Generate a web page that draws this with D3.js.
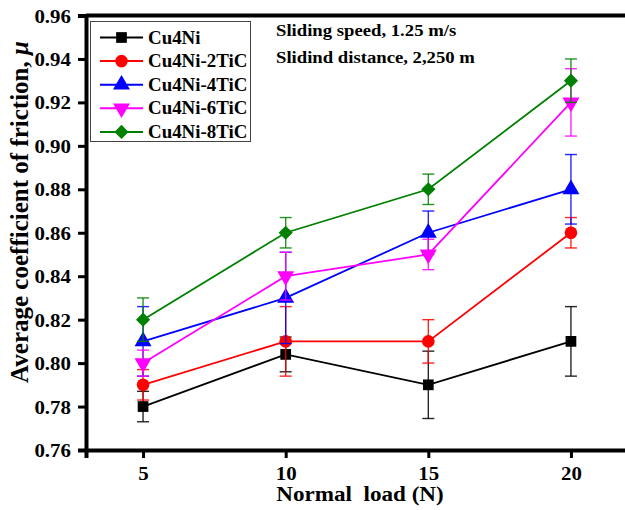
<!DOCTYPE html>
<html>
<head>
<meta charset="utf-8">
<script src="https://cdn.jsdelivr.net/npm/d3@7"></script>
<style>
  html, body { margin: 0; padding: 0; background: #fff; }
  svg { display: block; }
  text { font-family: "Liberation Serif", "Times New Roman", serif; font-weight: bold; }
</style>
</head>
<body>
<svg id="chart" width="625" height="510"></svg>
<script>
// Normal load (N)
const loads = [5, 10, 15, 20];
const seriesNames = ["Cu4Ni", "Cu4Ni-2TiC", "Cu4Ni-4TiC", "Cu4Ni-6TiC", "Cu4Ni-8TiC"];
// Average coefficient of friction per series
const cu4ni     = [0.780, 0.804, 0.790, 0.810];
const cu4ni2tic = [0.790, 0.810, 0.810, 0.860];
const cu4ni4tic = [0.810, 0.830, 0.860, 0.880];
const cu4ni6tic = [0.800, 0.840, 0.850, 0.920];
const cu4ni8tic = [0.820, 0.860, 0.880, 0.930];
// Error bar half-widths
const cu4niErr     = [0.007, 0.008, 0.0155, 0.016];
const cu4ni2ticErr = [0.007, 0.016, 0.010, 0.007];
const cu4ni4ticErr = [0.016, 0.021, 0.010, 0.016];
const cu4ni6ticErr = [0.006, 0.011, 0.007, 0.0155];
const cu4ni8ticErr = [0.010, 0.007, 0.007, 0.010];
const yTicks = [0.76, 0.78, 0.80, 0.82, 0.84, 0.86, 0.88, 0.90, 0.92, 0.94, 0.96];
const xTicks = [5, 10, 15, 20];
const notes = ["Sliding speed, 1.25 m/s", "Slidind distance, 2,250 m"];

const values = [cu4ni, cu4ni2tic, cu4ni4tic, cu4ni6tic, cu4ni8tic];
const errors = [cu4niErr, cu4ni2ticErr, cu4ni4ticErr, cu4ni6ticErr, cu4ni8ticErr];
const colors = ["#000000", "#ff0000", "#0000ff", "#ff00ff", "#008000"];
const symbols = ["square", "circle", "triUp", "triDown", "diamond"];
const symSize = [115, 125, 125, 125, 100];

const series = seriesNames.map((name, i) => ({
  name, color: colors[i], symbol: symbols[i], size: symSize[i],
  points: loads.map((x, j) => ({ x, y: values[i][j], e: errors[i][j] }))
}));

const svg = d3.select("#chart");
const plotL = 86, plotR = 628, plotT = 15.5, plotB = 450;
const sx = 1.1; // horizontal text stretch

const x = d3.scaleLinear().domain([3, 22]).range([plotL, plotR]);
const y = d3.scaleLinear().domain([0.76, 0.96]).range([plotB, plotT]);

const symbolTypes = {
  square: d3.symbolSquare, circle: d3.symbolCircle,
  triUp: d3.symbolTriangle, triDown: d3.symbolTriangle, diamond: d3.symbolSquare
};
const symbolRotation = { square: 0, circle: 0, triUp: 0, triDown: 180, diamond: 45 };
function symbolPath(sym, size) {
  return d3.symbol().type(symbolTypes[sym]).size(size)();
}
function symbolTransform(sym, px, py) {
  return `translate(${px},${py}) rotate(${symbolRotation[sym]})`;
}

// Frame top and right
svg.append("line").attr("x1", plotL).attr("x2", plotR).attr("y1", plotT).attr("y2", plotT)
  .attr("stroke", "#000").attr("stroke-width", 4);
svg.append("line").attr("x1", plotR).attr("x2", plotR).attr("y1", plotT).attr("y2", plotB)
  .attr("stroke", "#000").attr("stroke-width", 4);

// Axes
const yAxis = svg.append("g").attr("transform", `translate(${plotL},0)`)
  .call(d3.axisLeft(y).tickValues(yTicks).tickFormat(d3.format(".2f")).tickSize(8).tickPadding(4));
const xAxis = svg.append("g").attr("transform", `translate(0,${plotB})`)
  .call(d3.axisBottom(x).tickValues(xTicks).tickSize(8).tickPadding(6));
[yAxis, xAxis].forEach(g => {
  g.select(".domain").attr("stroke-width", 4).attr("stroke", "#000");
  g.selectAll(".tick line").attr("stroke-width", 3).attr("stroke", "#000");
  g.selectAll(".tick text").attr("fill", "#000")
    .style("font-size", "19px").style("font-family", "'Liberation Serif', serif").style("font-weight", "bold");
});
yAxis.selectAll(".tick text").each(function() {
  const t = d3.select(this);
  t.attr("x", null).attr("dy", null).attr("text-anchor", "end")
   .attr("transform", `translate(-15,6.5) scale(${sx},1)`);
});
xAxis.selectAll(".tick text").each(function() {
  const t = d3.select(this);
  t.attr("y", null).attr("dy", null)
   .attr("transform", `translate(0,30) scale(${sx},1)`);
});

// Axis titles
svg.append("text").attr("text-anchor", "middle")
  .attr("transform", `translate(360,501) scale(${sx},1)`)
  .style("font-size", "21px").style("white-space", "pre")
  .text("Normal  load (N)");
const yt = svg.append("text").attr("text-anchor", "middle")
  .attr("transform", `translate(28,212) rotate(-90)`)
  .style("font-size", "25px");
yt.append("tspan").text("Average coefficient of friction, ");
yt.append("tspan").style("font-style", "italic").text("μ");

// Error bars, lines and markers
const capW = 6;
const gSeries = svg.append("g");
series.forEach(s => {
  const g = gSeries.append("g");
  g.selectAll("g.err").data(s.points).join("g").attr("class", "err").each(function(d) {
    const e = d3.select(this);
    const px = x(d.x);
    e.append("line").attr("x1", px).attr("x2", px).attr("y1", y(d.y - d.e)).attr("y2", y(d.y + d.e));
    e.append("line").attr("x1", px - capW).attr("x2", px + capW).attr("y1", y(d.y - d.e)).attr("y2", y(d.y - d.e));
    e.append("line").attr("x1", px - capW).attr("x2", px + capW).attr("y1", y(d.y + d.e)).attr("y2", y(d.y + d.e));
  }).selectAll("line").attr("stroke", s.color).attr("stroke-width", 1.4).attr("stroke-opacity", 0.85);
  g.append("path").datum(s.points)
    .attr("d", d3.line().x(d => x(d.x)).y(d => y(d.y)))
    .attr("fill", "none").attr("stroke", s.color).attr("stroke-width", 1.8);
  g.selectAll("path.mk").data(s.points).join("path").attr("class", "mk")
    .attr("d", symbolPath(s.symbol, s.size))
    .attr("transform", d => symbolTransform(s.symbol, x(d.x), y(d.y)))
    .attr("fill", s.color);
});

// Legend
const lg = svg.append("g");
lg.append("rect").attr("x", 90.5).attr("y", 21.5).attr("width", 160).attr("height", 120)
  .attr("fill", "#fff").attr("stroke", "#444").attr("stroke-width", 1);
series.forEach((s, i) => {
  const ly = 37.5 + i * 23.6;
  lg.append("line").attr("x1", 100).attr("x2", 143).attr("y1", ly).attr("y2", ly)
    .attr("stroke", s.color).attr("stroke-width", 2);
  lg.append("path").attr("d", symbolPath(s.symbol, s.size))
    .attr("transform", symbolTransform(s.symbol, 121.5, ly)).attr("fill", s.color);
  lg.append("text").attr("transform", `translate(148,${ly + 6}) scale(1.05,1)`)
    .style("font-size", "18px").text(s.name);
});

// Test conditions
notes.forEach((t, i) => {
  svg.append("text").attr("transform", `translate(276,${36 + i * 27}) scale(${sx},1)`)
    .style("font-size", "17px").text(t);
});
</script>
</body>
</html>
